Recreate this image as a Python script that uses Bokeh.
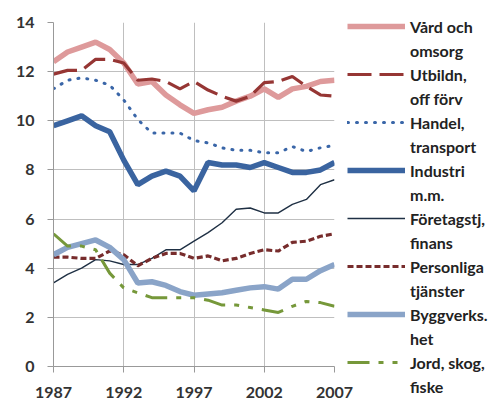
from bokeh.plotting import figure
from bokeh.models import Legend, LegendItem, FixedTicker, Range1d
from bokeh.embed import file_html
from bokeh.resources import INLINE

years = list(range(1987, 2008))
vard = [12.4, 12.8, 13.0, 13.2, 12.9, 12.35, 11.5, 11.6, 11.05, 10.65, 10.3,
        10.45, 10.55, 10.8, 11.0, 11.3, 10.95, 11.3, 11.4, 11.6, 11.65]
utbildn = [11.9, 12.05, 12.05, 12.5, 12.5, 12.35, 11.65, 11.7, 11.6, 11.3, 11.6,
           11.25, 11.0, 10.8, 11.0, 11.55, 11.6, 11.8, 11.4, 11.05, 11.0]
handel = [11.3, 11.65, 11.75, 11.65, 11.45, 10.85, 10.05, 9.5, 9.5, 9.5, 9.2,
          9.1, 8.9, 8.8, 8.8, 8.7, 8.7, 8.95, 8.75, 8.9, 9.0]
industri = [9.8, 10.0, 10.2, 9.8, 9.55, 8.4, 7.4, 7.75, 7.95, 7.75, 7.15,
            8.3, 8.2, 8.2, 8.1, 8.3, 8.1, 7.9, 7.9, 8.0, 8.3]
foretag = [3.4, 3.75, 4.0, 4.35, 4.3, 4.15, 4.15, 4.4, 4.75, 4.75, 5.1,
           5.45, 5.85, 6.4, 6.45, 6.25, 6.25, 6.6, 6.8, 7.4, 7.6]
personliga = [4.45, 4.45, 4.4, 4.4, 4.7, 4.55, 4.1, 4.4, 4.6, 4.6, 4.4,
              4.5, 4.3, 4.4, 4.6, 4.75, 4.7, 5.05, 5.1, 5.3, 5.4]
bygg = [4.55, 4.85, 5.0, 5.15, 4.85, 4.35, 3.4, 3.45, 3.3, 3.05, 2.9,
        2.95, 3.0, 3.1, 3.2, 3.25, 3.15, 3.55, 3.55, 3.9, 4.15]
jord = [5.4, 4.9, 4.9, 4.75, 3.8, 3.2, 3.0, 2.8, 2.8, 2.8, 2.8,
        2.7, 2.5, 2.5, 2.4, 2.3, 2.2, 2.45, 2.65, 2.6, 2.45]

x_ticks = [1987, 1992, 1997, 2002, 2007]
y_ticks = [0, 2, 4, 6, 8, 10, 12, 14]

labels = [("Vård och", "omsorg"), ("Utbildn,", "off förv"), ("Handel,", "transport"),
          ("Industri", "m.m."), ("Företagstj,", "finans"), ("Personliga", "tjänster"),
          ("Byggverks.", "het"), ("Jord, skog,", "fiske")]

series = [vard, utbildn, handel, industri, foretag, personliga, bygg, jord]
styles = [
    dict(line_color="#DE9A9B", line_width=5.5),
    dict(line_color="#963634", line_width=3.2, line_dash="24 8"),
    dict(line_color="#3A66A8", line_width=3, line_dash="1 8", line_cap="round"),
    dict(line_color="#3A64A0", line_width=5.5),
    dict(line_color="#1F3044", line_width=1.4),
    dict(line_color="#772C2C", line_width=3.2, line_dash="6 3"),
    dict(line_color="#8AA4C8", line_width=5.5),
    dict(line_color="#76983A", line_width=3, line_dash="22 9 5 9 5 9"),
]

FONT = "Lato"

p = figure(width=486, height=402, output_backend="svg", toolbar_location=None,
           x_range=Range1d(1987, 2007), y_range=Range1d(0, 14),
           frame_width=281, frame_height=344,
           min_border_left=53, min_border_right=152, min_border_top=22, min_border_bottom=36)
p.outline_line_color = None
p.background_fill_color = "white"

p.xaxis.ticker = FixedTicker(ticks=x_ticks)
p.yaxis.ticker = FixedTicker(ticks=y_ticks)
for ax in (p.xaxis, p.yaxis):
    ax.axis_line_color = "#999999"
    ax.major_tick_line_color = "#999999"
    ax.minor_tick_line_color = None
    ax.major_tick_in = 0
    ax.major_tick_out = 6
    ax.major_label_text_font = FONT
    ax.major_label_text_font_size = "16px"
    ax.major_label_text_font_style = "bold"
    ax.major_label_text_color = "#333333"
p.xaxis.major_label_standoff = 14
p.yaxis.major_label_standoff = 13
p.xgrid.ticker = FixedTicker(ticks=x_ticks)
p.ygrid.ticker = FixedTicker(ticks=y_ticks)
p.grid.grid_line_color = "#BFBFBF"
p.grid.grid_line_width = 1

items = []
for vals, st, (l1, l2) in zip(series, styles, labels):
    r = p.line(years, vals, **st)
    blank = p.line([], [], line_alpha=0)
    items.append(LegendItem(label=l1, renderers=[r]))
    items.append(LegendItem(label=l2, renderers=[blank]))

legend = Legend(items=items, location=(13, -32), orientation="vertical",
                padding=0, margin=0, spacing=0, label_height=24, glyph_height=20,
                glyph_width=58, label_standoff=5,
                border_line_color=None, background_fill_alpha=0,
                label_text_font=FONT, label_text_font_size="16px",
                label_text_font_style="bold", label_text_color="#222222")
p.add_layout(legend, "right")

open("out.html", "w").write(file_html(p, INLINE))
